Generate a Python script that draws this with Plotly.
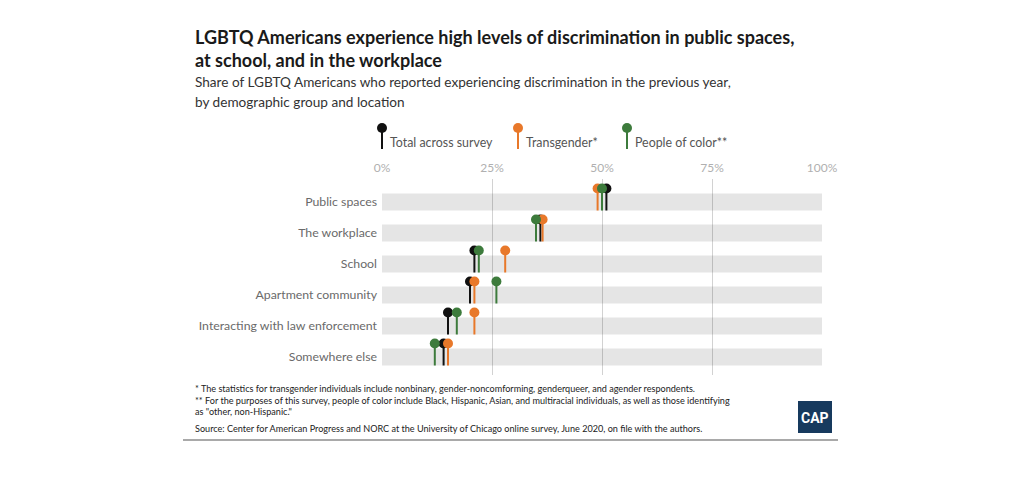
import plotly.graph_objects as go

# ---------------- data ----------------
categories = ["Public spaces", "The workplace", "School", "Apartment community",
              "Interacting with law enforcement", "Somewhere else"]
total_vals = [51, 36, 21, 20, 15, 14]
trans_vals = [49, 36.5, 28, 21, 21, 15]
poc_vals = [50, 35, 22, 26, 17, 12]
series_names = ["Total across survey", "Transgender*", "People of color**"]
series_colors = ["#111111", "#e8782a", "#3d7b3c"]
x_ticks = [0, 25, 50, 75, 100]
x_tick_labels = ["0%", "25%", "50%", "75%", "100%"]

FONT = "Lato"

# ---------------- geometry helpers (layout only) ----------------
W, H = 1024, 477
L, R, T, B = 382, 822, 179, 375  # plot area in pixels
ROW = 31.0
def px_x(px):
    return (px - L) / (R - L)
def px_y(py):
    return (B - py) / (B - T)

band_half = 8.5 / ROW
dot_off = 13.5 / ROW

idx = list(range(len(categories)))

fig = go.Figure()

# background bands
fig.add_trace(go.Bar(
    y=idx, x=[100] * len(categories), base=0, orientation="h", width=2 * band_half,
    marker=dict(color="rgba(0,0,0,0.10)", line=dict(width=0)),
    hoverinfo="skip", showlegend=False))

for name, vals, col in zip(series_names, [total_vals, trans_vals, poc_vals], series_colors):
    xs, ys = [], []
    for i, v in zip(idx, vals):
        xs += [v, v, None]
        ys += [i - dot_off, i + band_half, None]
    fig.add_trace(go.Scatter(x=xs, y=ys, mode="lines", line=dict(color=col, width=2),
                             hoverinfo="skip", showlegend=False))
    fig.add_trace(go.Scatter(x=vals, y=[i - dot_off for i in idx], mode="markers",
                             marker=dict(color=col, size=10, line=dict(width=0)),
                             name=name, showlegend=False))

fig.update_layout(
    width=W, height=H, margin=dict(l=L, r=W - R, t=T, b=H - B, pad=0),
    paper_bgcolor="white", plot_bgcolor="white",
    barmode="overlay", showlegend=False,
    font=dict(family=FONT, color="#555555"),
    xaxis=dict(range=[0, 100], side="top", tickvals=x_ticks, ticktext=x_tick_labels,
               showgrid=True, gridcolor="#d2d2d2", gridwidth=1, zeroline=False,
               showline=False, ticks="", tickfont=dict(family=FONT, size=12, color="#b0b0b0"),
               ticklabelstandoff=4, fixedrange=True),
    yaxis=dict(range=[len(categories) - 1 + 18 / ROW, -23 / ROW], tickvals=idx, ticktext=categories,
               showgrid=False, zeroline=False, showline=False, ticks="",
               tickfont=dict(family=FONT, size=12.3, color="#6a6a6a"),
               ticklabelstandoff=4, fixedrange=True),
)

ann = []
def text(px, py, s, size, color, xanchor="left"):
    ann.append(dict(x=px_x(px), y=px_y(py), xref="paper", yref="paper", text=s, showarrow=False,
                    xanchor=xanchor, yanchor="middle", align="left",
                    font=dict(family=FONT, size=size, color=color)))

text(193, 37, "<b>LGBTQ Americans experience high levels of discrimination in public spaces,</b>", 18, "#1a1a1a")
text(193, 60, "<b>at school, and in the workplace</b>", 18, "#1a1a1a")
text(193, 82, "Share of LGBTQ Americans who reported experiencing discrimination in the previous year,", 13.6, "#333333")
text(193, 102, "by demographic group and location", 13.6, "#333333")

# custom legend
shapes = []
legend_x = [382, 518, 627]
for lx, name, col in zip(legend_x, series_names, series_colors):
    shapes.append(dict(type="line", xref="paper", yref="paper", x0=px_x(lx), x1=px_x(lx),
                       y0=px_y(128), y1=px_y(149), line=dict(color=col, width=2)))
    shapes.append(dict(type="circle", xref="paper", yref="paper",
                       x0=px_x(lx - 5), x1=px_x(lx + 5), y0=px_y(123), y1=px_y(133),
                       fillcolor=col, line=dict(width=0)))
    text(lx + 6, 142, name, 12.4, "#555555")

fs = 9.1
text(193, 388, "* The statistics for transgender individuals include nonbinary, gender-noncomforming, genderqueer, and agender respondents.", fs, "#222222")
text(193, 400, "** For the purposes of this survey, people of color include Black, Hispanic, Asian, and multiracial individuals, as well as those identifying", fs, "#222222")
text(193, 411.5, "as \"other, non-Hispanic.\"", fs, "#222222")
text(193, 428, "Source: Center for American Progress and NORC at the University of Chicago online survey, June 2020, on file with the authors.", fs, "#222222")

# bottom rule
shapes.append(dict(type="line", xref="paper", yref="paper", x0=px_x(183), x1=px_x(838),
                   y0=px_y(440), y1=px_y(440), line=dict(color="#8c8c8c", width=1.5)))
# CAP logo
shapes.append(dict(type="rect", xref="paper", yref="paper", x0=px_x(798), x1=px_x(832),
                   y0=px_y(433), y1=px_y(401), fillcolor="#173a5e", line=dict(width=0)))
ann.append(dict(x=px_x(815), y=px_y(418), xref="paper", yref="paper", text="<b>CAP</b>",
                showarrow=False, xanchor="center", yanchor="middle",
                font=dict(family="Liberation Sans Narrow, Roboto", size=14, color="white")))

fig.update_layout(annotations=ann, shapes=shapes)
fig.write_html("out.html")
